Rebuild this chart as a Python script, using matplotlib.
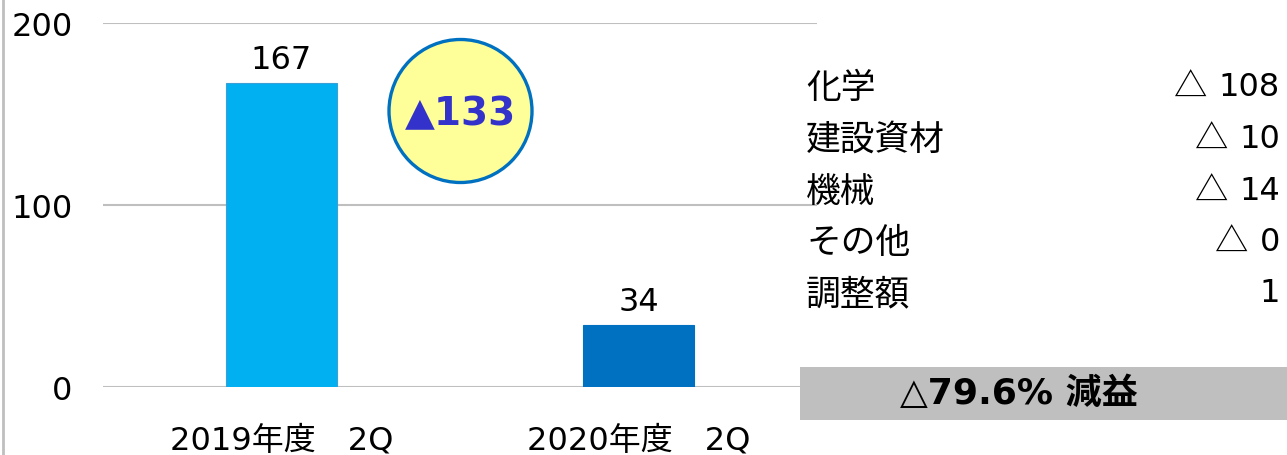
import matplotlib.pyplot as plt
from matplotlib.patches import Circle, Rectangle
from matplotlib.lines import Line2D

plt.rcParams['font.family'] = ['DejaVu Sans', 'Noto Sans CJK JP']

# データ
kubun = ["2019年度\u30002Q", "2020年度\u30002Q"]
rieki = [167, 34]
iro = ["#00B0F0", "#0070C0"]
sa = "▲133"

bumon = ["化学", "建設資材", "機械", "その他", "調整額"]
bumon_sa = ["△ 108", "△ 10", "△ 14", "△ 0", "1"]
genneki = "△79.6% 減益"

W, H = 1287, 456
fs = 23
fig = plt.figure(figsize=(W / 100, H / 100), dpi=100)
ax = fig.add_axes([103 / W, 68 / H, 714 / W, 364 / H])

x = list(range(len(kubun)))
bars = ax.bar(x, rieki, width=0.31, color=iro, edgecolor=["#3C9FD6", "#0070C0"], linewidth=0.8, zorder=3)
for b, v in zip(bars, rieki):
    ax.annotate(str(v), (b.get_x() + b.get_width() / 2, v), xytext=(0, 6),
                textcoords="offset points", ha="center", va="bottom", fontsize=fs)

ax.set_xlim(-0.5, 1.5)
ax.set_ylim(0, 200)
ax.set_yticks([0, 100, 200])
ax.set_xticks(x)
ax.set_xticklabels(kubun, fontsize=fs)
ax.tick_params(axis="y", length=0, labelsize=fs, pad=22)
ax.tick_params(axis="x", length=0, pad=27)
ax.grid(axis="y", color="#BFBFBF", linewidth=1.5, zorder=0)
for s in ax.spines.values():
    s.set_visible(False)

# 左の枠線
fig.add_artist(Line2D([2.5 / W, 2.5 / W], [0, 1], color="#BFBFBF", linewidth=2))

# 差額の丸
tr = fig.dpi_scale_trans
fig.add_artist(Circle((4.605, (H - 112) / 100), 0.715, transform=tr,
                      facecolor="#FFFF99", edgecolor="#0070C0", linewidth=2.4, zorder=5))
fig.text(461 / W, (H - 114) / H, sa, ha="center", va="center", fontsize=28,
         fontweight="bold", color="#3333CC", zorder=6)

# 部門別
ys = [88, 140, 192, 243, 294]
for name, val, yy in zip(bumon, bumon_sa, ys):
    fig.text(806 / W, (H - yy) / H, name, ha="left", va="center", fontsize=25)
    mark, _, num = val.rpartition(" ")
    t = fig.text(1280 / W, (H - yy) / H, num, ha="right", va="center", fontsize=fs)
    if mark:
        fig.add_artist(plt.Annotation(mark, xy=(0, 0.5), xycoords=t, xytext=(-8, 0),
                                      textcoords="offset points", ha="right", va="center",
                                      fontsize=24, family=["Noto Sans CJK JP"]))

# 減益ボックス
fig.add_artist(Rectangle((800 / W, (H - 421) / H), 487 / W, 53 / H,
                         transform=fig.transFigure, facecolor="#BFBFBF", edgecolor="none", zorder=4))
fig.text(1019 / W, (H - 394) / H, genneki, ha="center", va="center", fontsize=26,
         fontweight="bold", zorder=6)

fig.savefig("out.png", dpi=100)
